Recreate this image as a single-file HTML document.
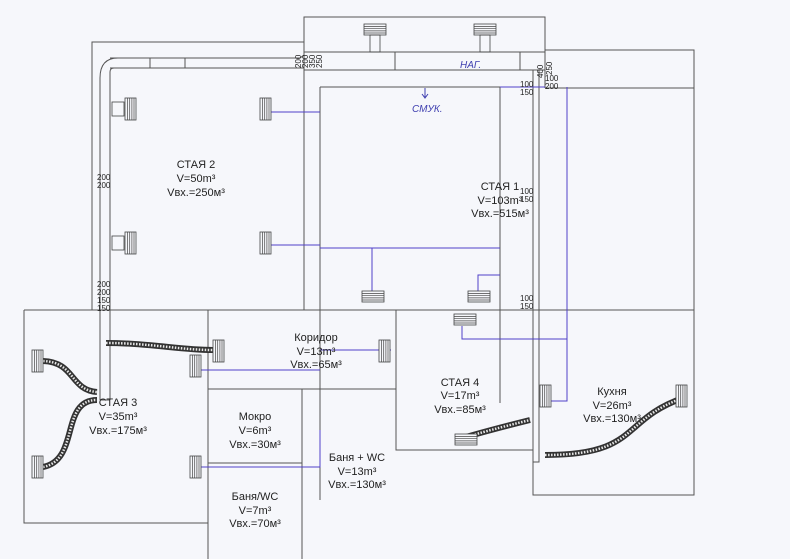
<!DOCTYPE html>
<html><head><meta charset="utf-8"><style>
html,body{margin:0;padding:0;background:#f6f7fb;}
svg{display:block}
text{font-family:"Liberation Sans",sans-serif;fill:#222}
.t{font-size:11px;text-anchor:middle}
.d{font-size:8px;font-family:"Liberation Serif",serif}
</style></head><body>
<svg width="790" height="559" viewBox="0 0 790 559" xmlns="http://www.w3.org/2000/svg">
<defs>
<g id="rv"><rect x="0" y="0" width="11" height="22" fill="#f6f7fb" stroke="#444" stroke-width="0.8"/><path d="M2.5 0V22M4.7 0V22M6.9 0V22M9 0V22" stroke="#444" stroke-width="0.7"/></g>
<g id="rh"><rect x="0" y="0" width="22" height="11" fill="#f6f7fb" stroke="#444" stroke-width="0.8"/><path d="M0 2.5H22M0 4.7H22M0 6.9H22M0 9H22" stroke="#444" stroke-width="0.7"/></g>
</defs>
<g fill="none" stroke="#555" stroke-width="1">
<path d="M92 310V42H304"/>
<path d="M304 310V17H545V88"/>
<path d="M545 50H694V495H533V450"/>
<path d="M545 88H694"/>
<path d="M320 87H500V403"/>
<path d="M320 87V500"/>
<path d="M24 310H694"/>
<path d="M24 310V523H208"/>
<path d="M208 310V559"/>
<path d="M208 389H396"/>
<path d="M396 310V450H533"/>
<path d="M208 463H302"/>
<path d="M302 389V559"/>
<path d="M110 58H300L304 55V52H545V70H304V68H110"/>
<path d="M100 400V78Q100 58 118 58"/>
<path d="M110 400V72Q110 68 114 68"/>
<path d="M100 400H110"/>
<path d="M150 58V68M185 58V68M395 52V70M520 52V70"/>
<path d="M533 70V462H539V70"/>
</g>
<g fill="none" stroke="#5040c8" stroke-width="1">
<path d="M270 112H320M270 245H320"/>
<path d="M320 248H500M372 248V291M500 275H478V291"/>
<path d="M500 87H545M567 87V401H550"/>
<path d="M462 326V339H567"/>
<path d="M391 350H320M201 370H320"/>
<path d="M201 467H320V430"/>
</g>
<g fill="none" stroke="#333" stroke-width="6">
<path d="M106 343C150 343 180 350 213 350"/>
<path d="M43 361C75 362 70 390 97 392"/>
<path d="M43 467C80 460 60 400 97 400"/>
<path d="M466 437C490 430 510 425 530 420"/>
<path d="M545 455C640 455 620 420 683 398"/>
</g>
<g fill="none" stroke="#e8e8e8" stroke-width="2.5" stroke-dasharray="1.5 1.5">
<path d="M106 343C150 343 180 350 213 350"/>
<path d="M43 361C75 362 70 390 97 392"/>
<path d="M43 467C80 460 60 400 97 400"/>
<path d="M466 437C490 430 510 425 530 420"/>
<path d="M545 455C640 455 620 420 683 398"/>
</g>
<use href="#rv" x="125" y="98"/><use href="#rv" x="125" y="232"/>
<use href="#rv" x="260" y="98"/><use href="#rv" x="260" y="232"/>
<rect x="112" y="102" width="12" height="14" fill="none" stroke="#444" stroke-width="0.8"/>
<rect x="112" y="236" width="12" height="14" fill="none" stroke="#444" stroke-width="0.8"/>
<use href="#rh" x="364" y="24"/><use href="#rh" x="474" y="24"/>
<rect x="370" y="35" width="10" height="17" fill="none" stroke="#444" stroke-width="0.8"/>
<rect x="480" y="35" width="10" height="17" fill="none" stroke="#444" stroke-width="0.8"/>
<use href="#rh" x="362" y="291"/><use href="#rh" x="468" y="291"/>
<use href="#rh" x="454" y="314"/><use href="#rh" x="455" y="434"/>
<use href="#rv" x="213" y="340"/><use href="#rv" x="190" y="355"/>
<use href="#rv" x="379" y="340"/><use href="#rv" x="190" y="456"/>
<use href="#rv" x="32" y="350"/><use href="#rv" x="32" y="456"/>
<use href="#rv" x="540" y="385"/><use href="#rv" x="676" y="385"/>
<g class="t">
<text x="196" y="168" class="t">СТАЯ 2</text><text x="196" y="182" class="t">V=50m³</text><text x="196" y="196" class="t">Vвх.=250м³</text>
<text x="500" y="190" class="t">СТАЯ 1</text><text x="500" y="204" class="t">V=103m³</text><text x="500" y="217" class="t">Vвх.=515м³</text>
<text x="316" y="341" class="t">Коридор</text><text x="316" y="355" class="t">V=13m³</text><text x="316" y="368" class="t">Vвх.=65м³</text>
<text x="118" y="406" class="t">СТАЯ 3</text><text x="118" y="420" class="t">V=35m³</text><text x="118" y="434" class="t">Vвх.=175м³</text>
<text x="255" y="420" class="t">Мокро</text><text x="255" y="434" class="t">V=6m³</text><text x="255" y="448" class="t">Vвх.=30м³</text>
<text x="357" y="461" class="t">Баня + WC</text><text x="357" y="475" class="t">V=13m³</text><text x="357" y="488" class="t">Vвх.=130м³</text>
<text x="255" y="500" class="t">Баня/WC</text><text x="255" y="514" class="t">V=7m³</text><text x="255" y="527" class="t">Vвх.=70м³</text>
<text x="460" y="386" class="t">СТАЯ 4</text><text x="460" y="399" class="t">V=17m³</text><text x="460" y="413" class="t">Vвх.=85м³</text>
<text x="612" y="395" class="t">Кухня</text><text x="612" y="409" class="t">V=26m³</text><text x="612" y="422" class="t">Vвх.=130м³</text>
</g>
<text x="460" y="68" style="font-size:10px;fill:#4040b0;font-style:italic">НАГ.</text>
<text x="412" y="112" style="font-size:10px;fill:#4040b0;font-style:italic">СМУК.</text>
<path d="M425 88V97M422 94L425 98L428 94" stroke="#4040b0" fill="none"/>
<g class="d">
<text transform="translate(301,68) rotate(-90)">200</text>
<text transform="translate(308,68) rotate(-90)">200</text>
<text transform="translate(315,68) rotate(-90)">350</text>
<text transform="translate(322,68) rotate(-90)">250</text>
<text transform="translate(543,78) rotate(-90)">400</text>
<text transform="translate(552,75) rotate(-90)">250</text>
<text x="545" y="81">100</text><text x="545" y="89">200</text>
<text x="520" y="87">100</text><text x="520" y="95">150</text>
<text x="520" y="194">100</text><text x="520" y="202">150</text>
<text x="520" y="301">100</text><text x="520" y="309">150</text>
<text x="97" y="180">200</text><text x="97" y="188">200</text>
<text x="97" y="287">200</text><text x="97" y="295">200</text><text x="97" y="303">150</text><text x="97" y="311">150</text>
</g>
</svg>
</body></html>
